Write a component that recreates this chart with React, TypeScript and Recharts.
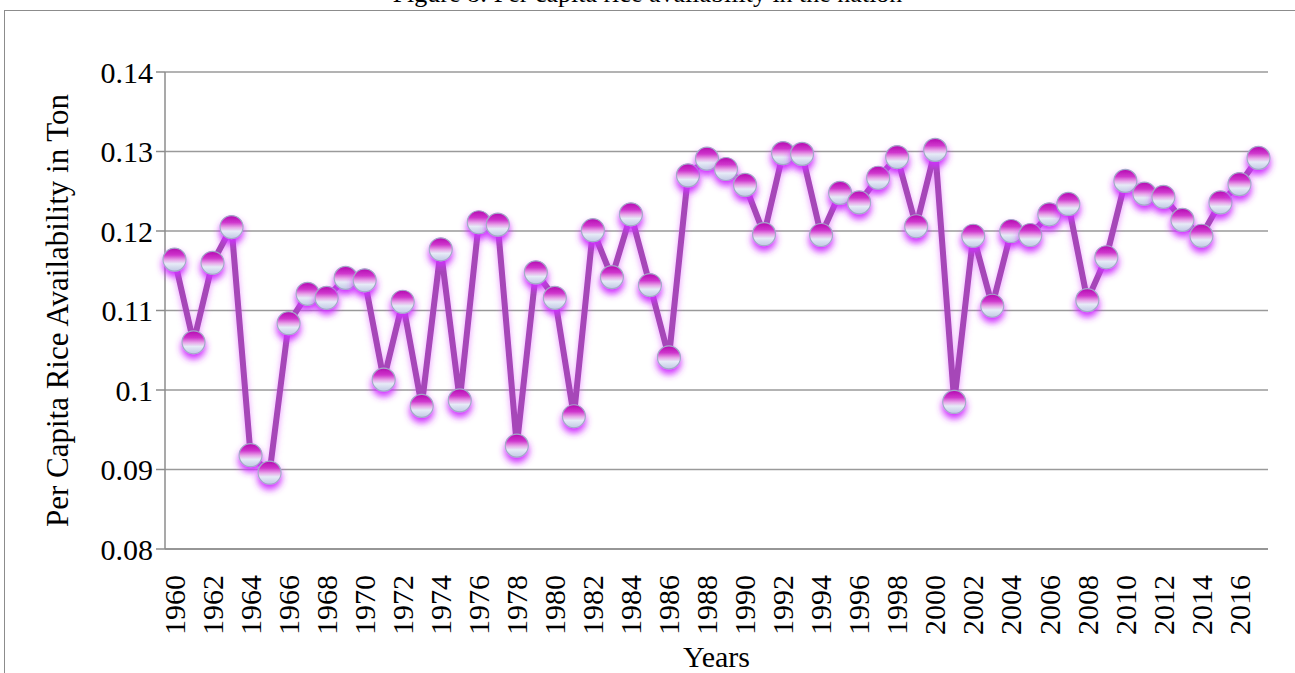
import React from "react";
import { LineChart, Line, XAxis, YAxis, CartesianGrid } from "recharts";

const YEARS = [
  1960, 1961, 1962, 1963, 1964, 1965, 1966, 1967, 1968, 1969,
  1970, 1971, 1972, 1973, 1974, 1975, 1976, 1977, 1978, 1979,
  1980, 1981, 1982, 1983, 1984, 1985, 1986, 1987, 1988, 1989,
  1990, 1991, 1992, 1993, 1994, 1995, 1996, 1997, 1998, 1999,
  2000, 2001, 2002, 2003, 2004, 2005, 2006, 2007, 2008, 2009,
  2010, 2011, 2012, 2013, 2014, 2015, 2016, 2017,
];

// per capita availability, tonnes
const RICE_PER_CAPITA = [
  0.1164, 0.1060, 0.1160, 0.1205, 0.0918, 0.0896, 0.1084, 0.1121, 0.1116, 0.1141,
  0.1138, 0.1013, 0.1111, 0.0980, 0.1177, 0.0987, 0.1211, 0.1208, 0.0930, 0.1148,
  0.1116, 0.0967, 0.1201, 0.1142, 0.1221, 0.1132, 0.1041, 0.1270, 0.1291, 0.1278,
  0.1258, 0.1196, 0.1298, 0.1297, 0.1195, 0.1248, 0.1236, 0.1267, 0.1293, 0.1206,
  0.1302, 0.0985, 0.1194, 0.1106, 0.1200, 0.1195, 0.1221, 0.1234, 0.1113, 0.1167,
  0.1263, 0.1247, 0.1243, 0.1214, 0.1194, 0.1236, 0.1259, 0.1292,
];

const Y_TICKS = [0.08, 0.09, 0.1, 0.11, 0.12, 0.13, 0.14];

const data = YEARS.map((year, i) => ({ year, value: RICE_PER_CAPITA[i] }));

const FONT = '"Liberation Serif", "Times New Roman", serif';
const AXIS_GRAY = "#8c8c8c";

function GlossyDot(props: any) {
  const { cx, cy, index } = props;
  if (cx == null || cy == null) return null;
  return (
    <g>
      {index === 0 && (
        <defs>
          <linearGradient id="ballFill" x1="0" y1="0" x2="0" y2="1">
            <stop offset="0%" stopColor="#b40cb0" />
            <stop offset="30%" stopColor="#cf35cc" />
            <stop offset="52%" stopColor="#e8a8ea" />
            <stop offset="68%" stopColor="#e6ebf7" />
            <stop offset="100%" stopColor="#c0c8e4" />
          </linearGradient>
          <filter id="ballGlow" x="-60%" y="-60%" width="220%" height="240%">
            <feGaussianBlur in="SourceAlpha" stdDeviation="3.5" />
            <feOffset dy="5" result="blur" />
            <feFlood floodColor="#d030ff" floodOpacity="1" />
            <feComposite in2="blur" operator="in" />
            <feMerge>
              <feMergeNode />
              <feMergeNode in="SourceGraphic" />
            </feMerge>
          </filter>
          <filter id="lineGlow" x="-10%" y="-10%" width="120%" height="120%">
            <feGaussianBlur in="SourceAlpha" stdDeviation="3" />
            <feOffset dy="3" result="blur" />
            <feFlood floodColor="#dd55ff" floodOpacity="0.6" />
            <feComposite in2="blur" operator="in" />
            <feMerge>
              <feMergeNode />
              <feMergeNode in="SourceGraphic" />
            </feMerge>
          </filter>
        </defs>
      )}
      <circle
        cx={cx}
        cy={cy}
        r={11.5}
        fill="url(#ballFill)"
        stroke="#a3a9c8"
        strokeWidth={1.2}
        filter="url(#ballGlow)"
      />
    </g>
  );
}

function YearTick(props: any) {
  const { x, y, payload } = props;
  return (
    <g transform={`translate(${x},${y})`}>
      <text
        transform="rotate(-90)"
        x={-18}
        y={0}
        dy="0.34em"
        textAnchor="end"
        fontFamily={FONT}
        fontSize={30}
        fill="#000"
      >
        {payload.value}
      </text>
    </g>
  );
}

export default function App() {
  return (
    <div
      style={{
        position: "absolute",
        left: 0,
        top: 0,
        width: 1295,
        height: 673,
        overflow: "hidden",
        background: "#fff",
      }}
    >
      <div
        style={{
          position: "absolute",
          left: 4,
          top: 10,
          width: 1400,
          height: 800,
          border: `1.5px solid ${AXIS_GRAY}`,
        }}
      />
      <div
        style={{
          position: "absolute",
          top: -19,
          left: 0,
          width: 1295,
          textAlign: "center",
          fontFamily: FONT,
          fontSize: 26,
          lineHeight: 1,
          color: "#000",
        }}
      >
        Figure 8: Per capita rice availability in the nation
      </div>
      <div style={{ position: "absolute", left: 0, top: 0 }}>
        <LineChart
          width={1295}
          height={673}
          data={data}
          margin={{ top: 72, right: 27, bottom: 0, left: 0 }}
        >
          <CartesianGrid vertical={false} stroke="#9a9a9a" strokeWidth={1.5} />
          <XAxis
            dataKey="year"
            interval={1}
            height={124}
            padding={{ left: 9.5, right: 9.5 }}
            tickLine={false}
            axisLine={{ stroke: AXIS_GRAY, strokeWidth: 1.5 }}
            tick={<YearTick />}
            label={{
              value: "Years",
              position: "insideBottom",
              offset: 6,
              style: { fontFamily: FONT, fontSize: 30, fill: "#000" },
            }}
          />
          <YAxis
            width={165}
            domain={[0.08, 0.14]}
            ticks={Y_TICKS}
            tickFormatter={(v: number) => String(Number(v.toFixed(2)))}
            tickSize={9}
            tickMargin={3}
            axisLine={{ stroke: AXIS_GRAY, strokeWidth: 1.5 }}
            tickLine={{ stroke: AXIS_GRAY, strokeWidth: 1.5 }}
            tick={{ fontFamily: FONT, fontSize: 30, fill: "#000" }}
            label={{
              value: "Per Capita Rice Availability in Ton",
              angle: -90,
              position: "center",
              dx: -26,
              style: { fontFamily: FONT, fontSize: 31, fill: "#000" },
            }}
          />
          <Line
            type="linear"
            dataKey="value"
            stroke="#a646b8"
            strokeWidth={6}
            filter="url(#lineGlow)"
            dot={<GlossyDot />}
            activeDot={false}
            isAnimationActive={false}
          />
        </LineChart>
      </div>
    </div>
  );
}
